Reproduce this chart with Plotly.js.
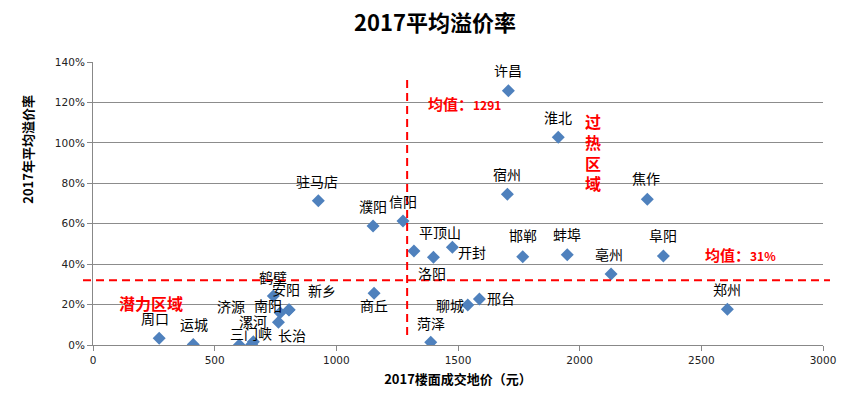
<!DOCTYPE html>
<html>
<head>
<meta charset="utf-8">
<script src="https://cdn.plot.ly/plotly-3.0.1.min.js"></script>
<style>html,body{margin:0;padding:0;background:#fff;}#chart{width:842px;height:394px;}</style>
</head>
<body>
<div id="chart"></div>
<script>
// ---- data ----
const cities = ['许昌','淮北','宿州','焦作','驻马店','濮阳','信阳','平顶山','洛阳','开封','邯郸','蚌埠','亳州','阜阳','郑州','聊城','邢台','菏泽','商丘','鹤壁','安阳','新乡','南阳','漯河','济源','三门峡','长治','周口','运城'];
const landPrice = [1707,1912,1703,2278,926,1151,1274,1319,1399,1477,1766,1949,2129,2344,2607,1540,1588,1388,1155,741,805,806,769,762,601,652,659,272,412];
const premiumRate = [1.258,1.028,0.746,0.721,0.714,0.589,0.614,0.465,0.434,0.483,0.437,0.447,0.351,0.440,0.177,0.198,0.228,0.013,0.256,0.242,0.173,0.175,0.160,0.112,0.000,0.003,0.016,0.033,0.003];
const meanPrice = 1291;
const meanPremiumLine = 0.32;
const meanPriceText = '均值：<span style="font-size:12px">1291</span>';
const meanPremiumText = '均值：<span style="font-size:12px">31%</span>';
const xTicks = [0,500,1000,1500,2000,2500,3000];
const yTicks = [0,0.2,0.4,0.6,0.8,1.0,1.2,1.4];
const yTickText = ['0%','20%','40%','60%','80%','100%','120%','140%'];

// ---- label placement (pixel offsets of each city label from its point) ----
const labelShift = [
  [0,21],[0,20],[0,20],[-1,21],[-1,20],[0,20],[0,20],[26,19],[-1,-16],[20,-5],
  [0,22],[0,21],[-2,20],[0,21],[0,20],[-18,0],[22,1],[0,19],[0,-12],[0,19],
  [-3,21],[33,20],[-12,8],[-25,1],[-8,39],[-1,11],[39,7],[-4,20],[1,20]
];

const cjk = '"Noto Sans CJK SC", "Noto Sans", sans-serif';
const red = '#FF0000';

const trace = {
  type: 'scatter', mode: 'markers',
  x: landPrice, y: premiumRate, text: cities,
  marker: {symbol: 'diamond', size: 10, color: '#4F81BD', line: {width: 0}},
  hoverinfo: 'text+x+y'
};

const labelAnns = cities.map((c, i) => ({
  x: landPrice[i], y: premiumRate[i], xref: 'x', yref: 'y',
  xanchor: 'center', yanchor: 'middle',
  text: c, showarrow: false,
  xshift: labelShift[i][0], yshift: labelShift[i][1],
  font: {family: cjk, size: 14, color: '#000'}
}));

const extraAnns = [
  {xref: 'paper', yref: 'paper', x: -0.089, y: 0.69, xanchor: 'center', yanchor: 'middle',
   text: '<b>2017年平均溢价率</b>', textangle: -90,
   showarrow: false, font: {family: cjk, size: 13, color: '#000'}},
  {xref: 'paper', yref: 'paper', x: 0.0795, y: 0.147, xanchor: 'center', yanchor: 'middle',
   text: '<b>潜力区域</b>', showarrow: false,
   font: {family: cjk, size: 16, color: red}},
  {xref: 'paper', yref: 'paper', x: 0.685, y: 0.682, xanchor: 'center', yanchor: 'middle',
   text: '<b>过<br>热<br>区<br>域</b>', showarrow: false,
   font: {family: cjk, size: 16, color: red}},
  {xref: 'x', yref: 'paper', x: meanPrice, xshift: 19, y: 0.854, xanchor: 'left', yanchor: 'middle',
   text: '<b>' + meanPriceText + '</b>',
   showarrow: false, font: {family: cjk, size: 15, color: red}},
  {xref: 'paper', yref: 'y', x: 0.836, y: meanPremiumLine, yshift: 26, xanchor: 'left', yanchor: 'middle',
   text: '<b>' + meanPremiumText + '</b>',
   showarrow: false, font: {family: cjk, size: 15, color: red}}
];

const layout = {
  width: 842, height: 394,
  margin: {l: 93, r: 19, t: 62, b: 49},
  paper_bgcolor: '#fff', plot_bgcolor: '#fff',
  showlegend: false,
  title: {text: '<b>2017平均溢价率</b>', xref: 'container', yref: 'container', x: 0.5166, y: 0.941,
          xanchor: 'center', yanchor: 'middle', font: {family: cjk, size: 22, color: '#000'}},
  xaxis: {
    range: [0, 3000], tickvals: xTicks, showgrid: false, zeroline: false,
    showline: true, linecolor: '#888', linewidth: 1,
    ticks: 'outside', ticklen: 5, tickcolor: '#888',
    tickfont: {family: 'DejaVu Sans', size: 10.5, color: '#222'},
    title: {text: '<b>2017楼面成交地价（元）</b>', font: {family: cjk, size: 13, color: '#000'}, standoff: 10}
  },
  yaxis: {
    range: [0, 1.4], tickvals: yTicks, ticktext: yTickText,
    showgrid: true, gridcolor: '#8c8c8c', gridwidth: 1, zeroline: false,
    showline: true, linecolor: '#888', linewidth: 1,
    ticks: 'outside', ticklen: 5, tickcolor: '#888',
    tickfont: {family: 'DejaVu Sans', size: 10.5, color: '#222'}
  },
  shapes: [
    {type: 'line', xref: 'x', yref: 'paper', x0: meanPrice, x1: meanPrice, y0: 0.035, y1: 0.954,
     line: {color: red, width: 2, dash: '8px,5px'}},
    {type: 'line', xref: 'paper', yref: 'y', x0: -0.0137, x1: 1.0096, y0: meanPremiumLine, y1: meanPremiumLine,
     line: {color: red, width: 2, dash: '8px,5px'}}
  ],
  annotations: labelAnns.concat(extraAnns)
};

Plotly.newPlot('chart', [trace], layout, {displayModeBar: false, staticPlot: true});
</script>
</body>
</html>
